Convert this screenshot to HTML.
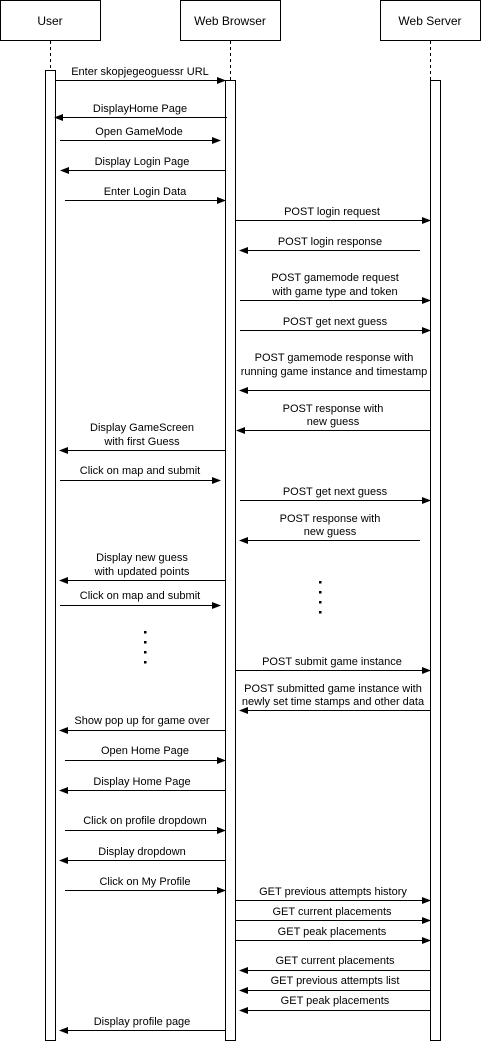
<!DOCTYPE html>
<html><head><meta charset="utf-8"><style>html,body{margin:0;padding:0;background:#fff}svg{display:block}text{font-family:"Liberation Sans",sans-serif;font-size:11px;fill:#000}</style></head><body>
<svg width="481" height="1042" viewBox="0 0 481 1042" xmlns="http://www.w3.org/2000/svg">
<defs><marker id="a" markerWidth="9" markerHeight="8" refX="8" refY="4" orient="auto" markerUnits="userSpaceOnUse"><path d="M0,0.5 L9,4 L0,7.5 Z" fill="#000"/></marker></defs>
<g fill="#fff" stroke="#000" stroke-width="1">
<rect x="0.5" y="0.5" width="100" height="40"/><rect x="180.5" y="0.5" width="100" height="40"/><rect x="380.5" y="0.5" width="100" height="40"/>
</g>
<g text-anchor="middle"><text x="50" y="25" style="font-size:12px">User</text><text x="230" y="25" style="font-size:12px">Web Browser</text><text x="430" y="25" style="font-size:12px">Web Server</text></g>
<g stroke="#000" stroke-dasharray="3,3"><line x1="50.5" y1="41" x2="50.5" y2="70"/><line x1="230.5" y1="41" x2="230.5" y2="80"/><line x1="430.5" y1="41" x2="430.5" y2="80"/></g>
<g fill="#fff" stroke="#000"><rect x="45.5" y="70.5" width="10" height="970"/><rect x="225.5" y="80.5" width="10" height="960"/><rect x="430.5" y="80.5" width="10" height="960"/></g>
<g stroke="#000" stroke-width="1" marker-end="url(#a)">
<line x1="55" y1="80.5" x2="225" y2="80.5"/>
<line x1="227" y1="117.5" x2="55" y2="117.5"/>
<line x1="60" y1="140.5" x2="220" y2="140.5"/>
<line x1="225" y1="170.5" x2="61" y2="170.5"/>
<line x1="65" y1="200.5" x2="225" y2="200.5"/>
<line x1="235" y1="220.5" x2="430" y2="220.5"/>
<line x1="420" y1="250.5" x2="240" y2="250.5"/>
<line x1="240" y1="300.5" x2="430" y2="300.5"/>
<line x1="240" y1="330.5" x2="430" y2="330.5"/>
<line x1="430" y1="390.5" x2="240" y2="390.5"/>
<line x1="430" y1="430.5" x2="237" y2="430.5"/>
<line x1="225" y1="450.5" x2="60" y2="450.5"/>
<line x1="60" y1="480.5" x2="220" y2="480.5"/>
<line x1="240" y1="500.5" x2="430" y2="500.5"/>
<line x1="420" y1="540.5" x2="240" y2="540.5"/>
<line x1="225" y1="580.5" x2="60" y2="580.5"/>
<line x1="60" y1="605.5" x2="220" y2="605.5"/>
<line x1="235" y1="670.5" x2="430" y2="670.5"/>
<line x1="430" y1="710.5" x2="240" y2="710.5"/>
<line x1="225" y1="730.5" x2="60" y2="730.5"/>
<line x1="65" y1="760.5" x2="225" y2="760.5"/>
<line x1="225" y1="790.5" x2="60" y2="790.5"/>
<line x1="65" y1="830.5" x2="225" y2="830.5"/>
<line x1="225" y1="860.5" x2="60" y2="860.5"/>
<line x1="65" y1="890.5" x2="225" y2="890.5"/>
<line x1="235" y1="900.5" x2="430" y2="900.5"/>
<line x1="235" y1="920.5" x2="430" y2="920.5"/>
<line x1="235" y1="940.5" x2="430" y2="940.5"/>
<line x1="430" y1="970.5" x2="240" y2="970.5"/>
<line x1="430" y1="990.5" x2="240" y2="990.5"/>
<line x1="430" y1="1010.5" x2="240" y2="1010.5"/>
<line x1="225" y1="1030.5" x2="60" y2="1030.5"/>
</g>
<g text-anchor="middle">
<text x="140" y="75">Enter skopjegeoguessr URL</text>
<text x="140" y="112">DisplayHome Page</text>
<text x="139" y="135">Open GameMode</text>
<text x="142" y="165">Display Login Page</text>
<text x="145" y="195">Enter Login Data</text>
<text x="332" y="215">POST login request</text>
<text x="330" y="245">POST login response</text>
<text x="335" y="281">POST gamemode request</text>
<text x="335" y="295">with game type and token</text>
<text x="335" y="325">POST get next guess</text>
<text x="334" y="361">POST gamemode response with</text>
<text x="334" y="375">running game instance and timestamp</text>
<text x="333" y="412">POST response with</text>
<text x="333" y="425">new guess</text>
<text x="142" y="431">Display GameScreen</text>
<text x="142" y="445">with first Guess</text>
<text x="140" y="474">Click on map and submit</text>
<text x="335" y="495">POST get next guess</text>
<text x="330" y="522">POST response with</text>
<text x="330" y="535">new guess</text>
<text x="142" y="561">Display new guess</text>
<text x="142" y="575">with updated points</text>
<text x="140" y="599">Click on map and submit</text>
<text x="332" y="665">POST submit game instance</text>
<text x="333" y="692">POST submitted game instance with</text>
<text x="333" y="705">newly set time stamps and other data</text>
<text x="142" y="724">Show pop up for game over</text>
<text x="145" y="754">Open Home Page</text>
<text x="142" y="785">Display Home Page</text>
<text x="145" y="824">Click on profile dropdown</text>
<text x="142" y="855">Display dropdown</text>
<text x="145" y="885">Click on My Profile</text>
<text x="333" y="895">GET  previous attempts history</text>
<text x="332" y="915">GET current placements</text>
<text x="332" y="935">GET peak placements</text>
<text x="335" y="964">GET current placements</text>
<text x="335" y="984">GET previous attempts list</text>
<text x="335" y="1004">GET peak placements</text>
<text x="142" y="1025">Display profile page</text>
</g>
<g fill="#000">
<rect x="319" y="581" width="2.5" height="2.5"/><rect x="319" y="591" width="2.5" height="2.5"/><rect x="319" y="601" width="2.5" height="2.5"/><rect x="319" y="611" width="2.5" height="2.5"/>
<rect x="144" y="631" width="2.5" height="2.5"/><rect x="144" y="641" width="2.5" height="2.5"/><rect x="144" y="651" width="2.5" height="2.5"/><rect x="144" y="661" width="2.5" height="2.5"/>
</g>
</svg>
</body></html>
